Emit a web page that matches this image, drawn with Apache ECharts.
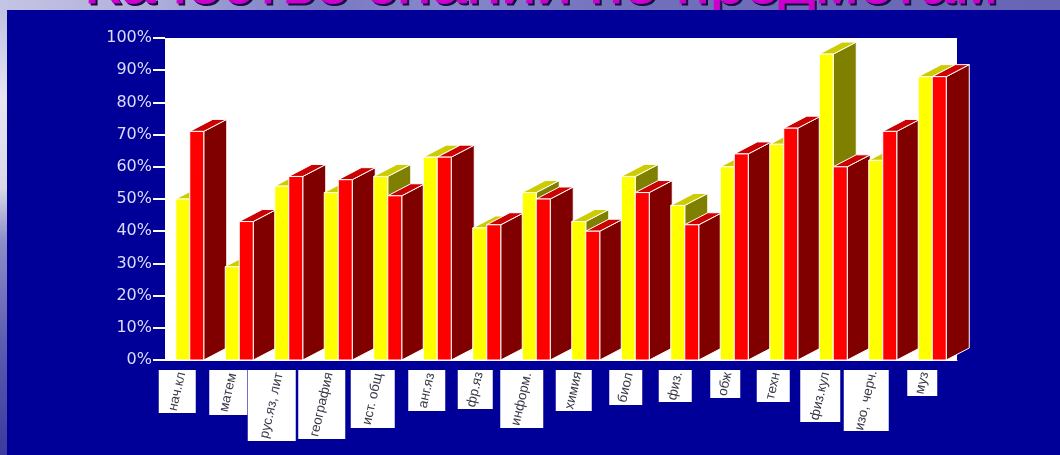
<!DOCTYPE html>
<html><head><meta charset="utf-8">
<style>html,body{margin:0;padding:0;background:#000099;overflow:hidden}#c{width:1060px;height:455px}</style>
<script src="https://cdn.jsdelivr.net/npm/echarts@6/dist/echarts.min.js"></script>
</head><body><div id="c"></div>
<script>
const categories = ['нач.кл','матем','рус.яз, лит','география','ист. общ','анг.яз','фр.яз','информ.','химия','биол','физ.','обж','техн','физ.кул','изо, черч.','муз'];
const yellowValues = [50,29,54,52,57,63,41,52,43,57,48,60,67,95,62,88];
const redValues = [71,43,57,56,51,63,42,50,40,52,42,64,72,60,71,88];
const titleText = 'Качество знаний по предметам';
// layout only: [offset from category centre, box width, box height]
const labelBoxes = [[-31,37,43],[-30,38,45],[-41,48,71],[-40,47,69],[-37,44,58],[-29,37,41],[-29,35,39],[-36,43,58],[-30,36,41],[-26,33,35],[-26,33,32],[-24,30,28],[-27,33,32],[-33,40,52],[-39,45,61],[-25,30,26]];

const BAR = 14, DX = 23, DY = 12;
const pal = {
  y:{front:'#ffff00',side:'#808000',top:'#cccc00'},
  r:{front:'#ff0000',side:'#800000',top:'#cc0000'}
};
function box(x0, yTop, yBase, c){
  const x1 = x0 + BAR, st = {stroke:'#ffffff', lineWidth:1};
  return [
    {type:'polygon',shape:{points:[[x1,yTop],[x1+DX,yTop-DY],[x1+DX,yBase-DY],[x1,yBase]]},style:Object.assign({fill:c.side},st)},
    {type:'polygon',shape:{points:[[x0,yTop],[x0+DX,yTop-DY],[x1+DX,yTop-DY],[x1,yTop]]},style:Object.assign({fill:c.top},st)},
    {type:'polygon',shape:{points:[[x0,yTop],[x1,yTop],[x1,yBase],[x0,yBase]]},style:Object.assign({fill:c.front},st)}
  ];
}
function renderBars(params, api){
  const i = api.value(0);
  const base = api.coord([i,0]);
  const yT = api.coord([i,api.value(1)])[1];
  const rT = api.coord([i,api.value(2)])[1];
  return {type:'group',children:box(base[0]-BAR,yT,base[1],pal.y).concat(box(base[0],rT,base[1],pal.r))};
}
function renderLabels(params, api){
  const i = api.value(0);
  const p = api.coord([i,0]);
  const b = labelBoxes[i];
  const left = p[0]+b[0], top = p[1]+10;
  return {type:'group',children:[
    {type:'rect',shape:{x:left,y:top,width:b[1],height:b[2]},style:{fill:'#ffffff'}},
    {type:'text',x:left+b[1]/2,y:top+b[2]/2,rotation:77*Math.PI/180,
     style:{text:categories[i],fill:'#3a3a4a',font:'13.5px "Liberation Sans"',align:'center',verticalAlign:'middle'}}
  ]};
}
const titleFont = 'normal 63px "Liberation Sans"';
const chart = echarts.init(document.getElementById('c'),null,{renderer:'canvas'});
chart.setOption({
  animation:false,
  backgroundColor:'#000099',
  grid:{left:165,top:38,width:792,height:322,show:true,backgroundColor:'#ffffff',borderWidth:0,containLabel:false},
  xAxis:{type:'category',data:categories,axisLabel:{show:false},axisTick:{show:false},axisLine:{show:true,lineStyle:{color:'#ffffff',width:1}},splitLine:{show:false}},
  yAxis:{type:'value',min:0,max:100,interval:10,
    axisLabel:{formatter:'{value}%',color:'#dcdcf8',fontFamily:'DejaVu Sans',fontSize:16,margin:13},
    axisTick:{show:true,length:12,lineStyle:{color:'#ffffff',width:2}},
    axisLine:{show:false},splitLine:{show:false}},
  graphic:[
    {type:'rect',z:-10,silent:true,shape:{x:0,y:0,width:1060,height:10},style:{fill:{type:'linear',x:0,y:0,x2:1,y2:0,colorStops:[{offset:0,color:'#c4c4e4'},{offset:0.15,color:'#aeaeda'},{offset:0.3,color:'#7878c4'},{offset:0.42,color:'#8888cc'},{offset:0.6,color:'#7070bc'},{offset:1,color:'#6666b4'}]}}},
    {type:'rect',z:-10,silent:true,shape:{x:0,y:10,width:7,height:445},style:{fill:{type:'linear',x:0,y:0,x2:0,y2:1,colorStops:[{offset:0,color:'#c0c0e2'},{offset:0.2,color:'#e6e6f2'},{offset:0.4,color:'#d8d8e8'},{offset:0.52,color:'#8c8cc8'},{offset:0.75,color:'#5c5cb0'},{offset:1,color:'#3a3aa0'}]}}},
    {type:'text',z:-9,silent:true,x:543,y:19,style:{text:titleText,font:titleFont,fill:'#101040',stroke:'#101040',lineWidth:1,align:'center',verticalAlign:'bottom'}},
    {type:'text',z:-8,silent:true,x:541,y:17,style:{text:titleText,font:titleFont,fill:'#cc00cc',stroke:'#cc00cc',lineWidth:1,align:'center',verticalAlign:'bottom'}},
    {type:'rect',z:-6,silent:true,shape:{x:7,y:10,width:1053,height:445},style:{fill:'#000099'}}
  ],
  series:[
    {type:'custom',renderItem:renderBars,clip:false,silent:true,encode:{x:0,y:[1,2]},z:3,
      data:categories.map((c,i)=>[i,yellowValues[i],redValues[i]])},
    {type:'custom',renderItem:renderLabels,clip:false,silent:true,encode:{x:0,y:1},z:3,
      data:categories.map((c,i)=>[i,0])}
  ]
});
</script></body></html>
